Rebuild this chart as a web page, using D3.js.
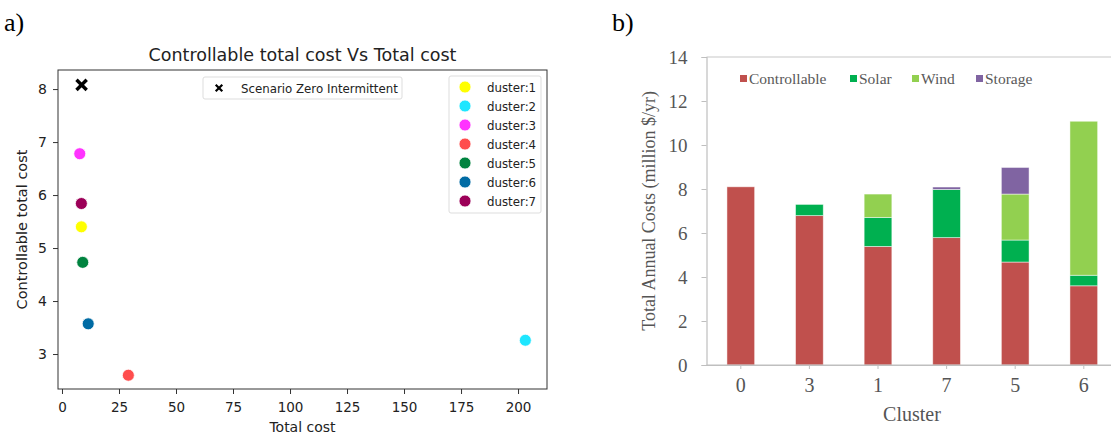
<!DOCTYPE html>
<html>
<head>
<meta charset="utf-8">
<script src="https://cdn.jsdelivr.net/npm/d3@7"></script>
<style>
  body { margin: 0; background: #fff; }
  svg { display: block; }
</style>
</head>
<body>
<script>
// ---- panel a) scatter data ----
const clusterNames = ['duster:1','duster:2','duster:3','duster:4','duster:5','duster:6','duster:7'];
const clusterColors = ['#ffff00','#1ee6ff','#ff33ff','#ff4d4d','#00833f','#006ba4','#9c0058'];
const totalCost = [8.5, 203.2, 7.8, 29.1, 9.1, 11.5, 8.5];
const ctrlCost = [5.40, 3.26, 6.78, 2.60, 4.73, 3.57, 5.84];
const zeroTotal = [8.6];
const zeroCtrl = [8.08];
const xTicksA = [0,25,50,75,100,125,150,175,200];
const yTicksA = [3,4,5,6,7,8];

// ---- panel b) stacked bars ----
const barClusters = ['0','3','1','7','5','6'];
const controllable = [8.1, 6.79, 5.39, 5.79, 4.68, 3.60];
const solar = [0, 0.51, 1.32, 2.19, 1.0, 0.48];
const wind = [0, 0, 1.06, 0, 2.09, 7.0];
const storage = [0, 0, 0, 0.11, 1.21, 0];
const seriesNames = ['Controllable','Solar','Wind','Storage'];
const seriesColors = ['#c0504d','#00b050','#92d050','#8064a2'];
const yTicksB = [0,2,4,6,8,10,12,14];

const svg = d3.select('body').append('svg')
  .attr('width', 1111).attr('height', 436);

// ================= a) =================
svg.append('text').text('a)')
  .attr('x', 4).attr('y', 31)
  .attr('font-family', 'Liberation Serif').attr('font-size', 26).attr('fill', '#000');

const A = {left: 58, top: 70, right: 547, bottom: 389};
const xA = d3.scaleLinear().domain([-1.75, 212.7]).range([A.left, A.right]);
const yA = d3.scaleLinear().domain([2.34, 8.36]).range([A.bottom, A.top]);

const gA = svg.append('g').attr('font-family', 'DejaVu Sans');

gA.append('g').attr('transform', 'translate(0,' + A.bottom + ')')
  .call(d3.axisBottom(xA).tickValues(xTicksA).tickSize(5).tickPadding(8))
  .call(g => g.select('.domain').remove())
  .call(g => g.selectAll('text').attr('font-size', 13.5).attr('fill', '#222').attr('font-family', 'DejaVu Sans'))
  .call(g => g.selectAll('line').attr('stroke', '#333'));

gA.append('g').attr('transform', 'translate(' + A.left + ',0)')
  .call(d3.axisLeft(yA).tickValues(yTicksA).tickFormat(d3.format('d')).tickSize(5).tickPadding(6))
  .call(g => g.select('.domain').remove())
  .call(g => g.selectAll('text').attr('font-size', 14).attr('fill', '#222').attr('font-family', 'DejaVu Sans'))
  .call(g => g.selectAll('line').attr('stroke', '#333'));

gA.append('rect')
  .attr('x', A.left).attr('y', A.top)
  .attr('width', A.right - A.left).attr('height', A.bottom - A.top)
  .attr('fill', 'none').attr('stroke', '#333').attr('stroke-width', 1);

gA.append('text').text('Controllable total cost Vs Total cost')
  .attr('x', (A.left + A.right) / 2).attr('y', 61)
  .attr('text-anchor', 'middle').attr('font-size', 17.5).attr('fill', '#222');

gA.append('text').text('Total cost')
  .attr('x', (A.left + A.right) / 2).attr('y', 432)
  .attr('text-anchor', 'middle').attr('font-size', 14).attr('fill', '#222');

gA.append('text').text('Controllable total cost')
  .attr('transform', 'translate(27,' + (A.top + A.bottom) / 2 + ') rotate(-90)')
  .attr('text-anchor', 'middle').attr('font-size', 14.5).attr('fill', '#222');

// points
gA.selectAll('.pt')
  .data(totalCost.map((d, i) => ({x: d, y: ctrlCost[i], c: clusterColors[i]})))
  .enter().append('circle')
  .attr('class', 'pt')
  .attr('cx', d => xA(d.x)).attr('cy', d => yA(d.y))
  .attr('r', 6)
  .attr('fill', d => d.c)
  .attr('stroke', '#fff').attr('stroke-width', 0.8);

const xMark = d3.symbol().type(d3.symbolX).size(70);
gA.selectAll('.zero')
  .data(zeroTotal.map((d, i) => ({x: d, y: zeroCtrl[i]})))
  .enter().append('path')
  .attr('d', xMark)
  .attr('transform', d => 'translate(' + xA(d.x) + ',' + yA(d.y) + ')')
  .attr('fill', 'none').attr('stroke', '#000').attr('stroke-width', 3.4);

// legend: scenario
const lg1 = gA.append('g');
lg1.append('rect').attr('x', 203).attr('y', 77).attr('width', 199).attr('height', 22)
  .attr('rx', 2).attr('fill', '#fff').attr('stroke', '#ddd');
lg1.append('path').attr('d', d3.symbol().type(d3.symbolX).size(30))
  .attr('transform', 'translate(219,88)')
  .attr('stroke', '#000').attr('stroke-width', 2.2).attr('fill', 'none');
lg1.append('text').text('Scenario Zero Intermittent')
  .attr('x', 241).attr('y', 92.5).attr('font-size', 11.8).attr('fill', '#222');

// legend: clusters
const lg2 = gA.append('g');
lg2.append('rect').attr('x', 449).attr('y', 76).attr('width', 92).attr('height', 137)
  .attr('rx', 2).attr('fill', '#fff').attr('stroke', '#ddd');
const rows = lg2.selectAll('.row').data(clusterNames).enter().append('g')
  .attr('transform', (d, i) => 'translate(0,' + (87 + i * 19) + ')');
rows.append('circle').attr('cx', 465).attr('cy', 0).attr('r', 6)
  .attr('fill', (d, i) => clusterColors[i]).attr('stroke', '#fff').attr('stroke-width', 0.8);
rows.append('text').text(d => d)
  .attr('x', 487).attr('y', 4.5).attr('font-size', 11.8).attr('fill', '#222');

// ================= b) =================
svg.append('text').text('b)')
  .attr('x', 612).attr('y', 31)
  .attr('font-family', 'Liberation Serif').attr('font-size', 26).attr('fill', '#000');

const B = {left: 706.5, top: 57, bottom: 365};
const xB = d3.scaleBand().domain(barClusters).range([B.left, B.left + 6 * 68.6]).paddingInner(0.596).paddingOuter(0.298);
const yB = d3.scaleLinear().domain([0, 14]).range([B.bottom, B.top]);

const gB = svg.append('g').attr('font-family', 'Liberation Serif');

const stackData = barClusters.map((c, i) => ({
  cluster: c, Controllable: controllable[i], Solar: solar[i], Wind: wind[i], Storage: storage[i]
}));
const stacked = d3.stack().keys(seriesNames)(stackData);

gB.selectAll('.layer').data(stacked).enter().append('g')
  .attr('fill', (d, i) => seriesColors[i])
  .selectAll('rect').data(d => d.filter(s => s[1] - s[0] > 0)).enter().append('rect')
  .attr('x', d => xB(d.data.cluster))
  .attr('width', xB.bandwidth())
  .attr('y', d => yB(d[1]))
  .attr('height', d => yB(d[0]) - yB(d[1]))
  .attr('stroke', '#fff').attr('stroke-opacity', 0.6).attr('stroke-width', 0.8);

// axes
gB.append('line').attr('x1', B.left).attr('x2', 1111).attr('y1', B.top).attr('y2', B.top)
  .attr('stroke', '#c8c8c8').attr('stroke-width', 1.2);

gB.append('g').attr('transform', 'translate(' + B.left + ',0)')
  .call(d3.axisLeft(yB).tickValues(yTicksB).tickSize(5).tickPadding(14))
  .call(g => g.select('.domain').attr('stroke', '#bfbfbf').attr('stroke-width', 1.2))
  .call(g => g.selectAll('line').attr('stroke', '#bfbfbf'))
  .call(g => g.selectAll('text').attr('font-size', 19).attr('fill', '#555').attr('font-family', 'Liberation Serif'));

gB.append('g').attr('transform', 'translate(0,' + B.bottom + ')')
  .call(d3.axisBottom(xB).tickSize(4).tickPadding(9).tickSizeOuter(0))
  .call(g => g.select('.domain').attr('stroke', '#bfbfbf').attr('stroke-width', 1.2))
  .call(g => g.selectAll('line').attr('stroke', '#bfbfbf'))
  .call(g => g.selectAll('text').attr('font-size', 20).attr('fill', '#555').attr('font-family', 'Liberation Serif'));

gB.append('line').attr('x1', B.left).attr('x2', 1111).attr('y1', B.bottom).attr('y2', B.bottom)
  .attr('stroke', '#bfbfbf').attr('stroke-width', 1.2);

gB.append('text').text('Cluster')
  .attr('x', 912).attr('y', 421)
  .attr('text-anchor', 'middle').attr('font-size', 20).attr('fill', '#555');

gB.append('text').text('Total Annual Costs (million $/yr)')
  .attr('transform', 'translate(655,211) rotate(-90)')
  .attr('text-anchor', 'middle').attr('font-size', 18).attr('fill', '#555');

// legend
const legX = [740, 850, 912, 976];
const lgB = gB.selectAll('.lgb').data(seriesNames).enter().append('g')
  .attr('transform', (d, i) => 'translate(' + legX[i] + ',79)');
lgB.append('rect').attr('x', 0).attr('y', -4).attr('width', 7).attr('height', 7)
  .attr('fill', (d, i) => seriesColors[i]);
lgB.append('text').text(d => d)
  .attr('x', 9).attr('y', 5).attr('font-size', 15.5).attr('fill', '#595959');
</script>
</body>
</html>
